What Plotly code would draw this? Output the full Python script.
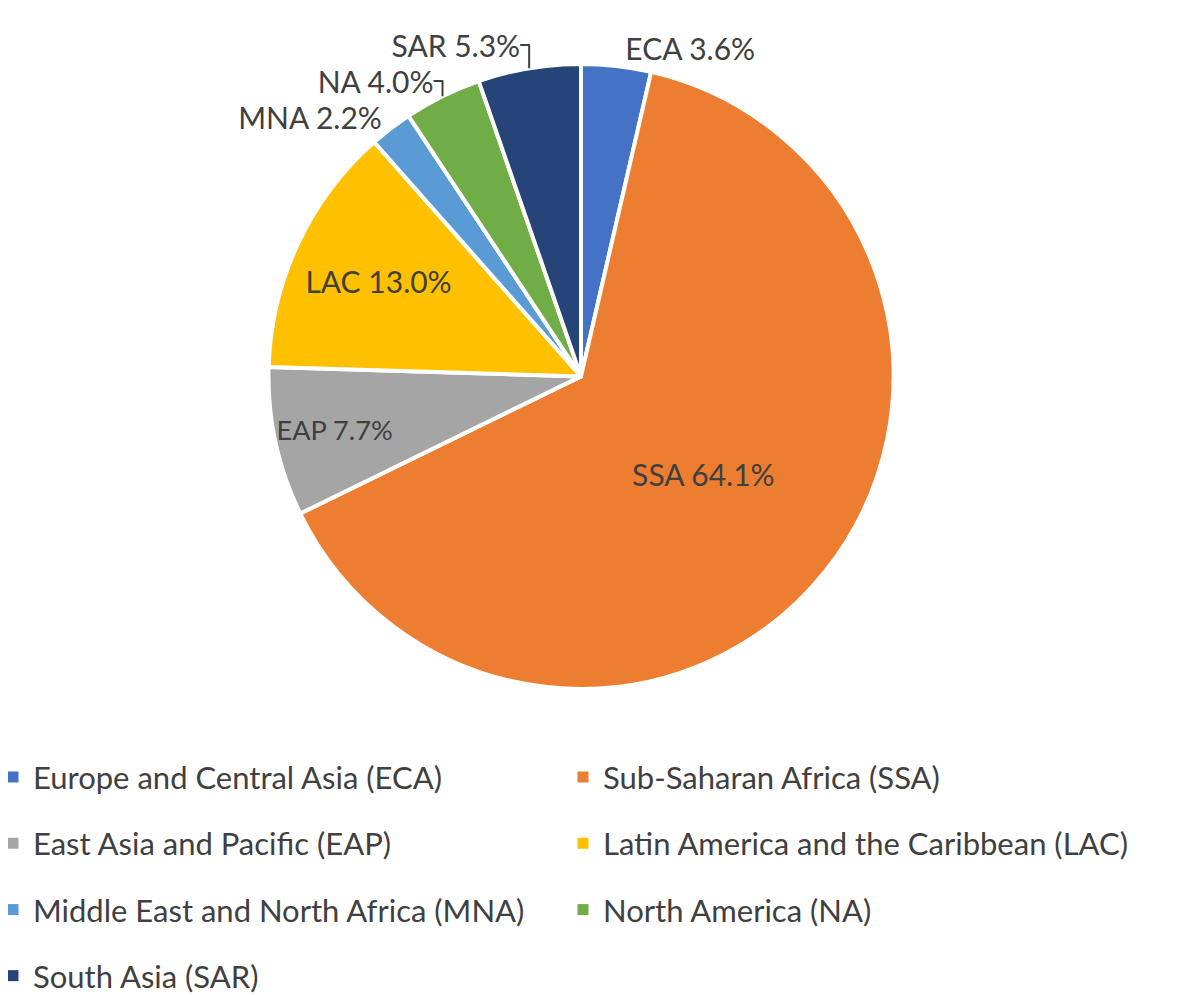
import plotly.graph_objects as go

regions = ["Europe and Central Asia (ECA)", "Sub-Saharan Africa (SSA)",
           "East Asia and Pacific (EAP)", "Latin America and the Caribbean (LAC)",
           "Middle East and North Africa (MNA)", "North America (NA)",
           "South Asia (SAR)"]
codes = ["ECA", "SSA", "EAP", "LAC", "MNA", "NA", "SAR"]
shares = [3.6, 64.1, 7.7, 13.0, 2.2, 4.0, 5.3]
colors = ["#4472C4", "#ED7D31", "#A5A5A5", "#FFC000", "#5B9BD5", "#70AD47", "#264478"]
positions = ["outside", "inside", "inside", "inside", "outside", "outside", "outside"]
legend_rows = ["legend", "legend", "legend2", "legend2", "legend3", "legend3", "legend4"]

FONT = "Lato"
TXT = "#404040"
FS = 30
W, H = 1178, 995

fig = go.Figure()
fig.add_trace(go.Pie(
    labels=regions,
    values=shares,
    text=codes,
    texttemplate="%{text} %{value:.1f}%",
    textinfo="text",
    textposition=positions,
    insidetextorientation="horizontal",
    sort=False,
    direction="clockwise",
    rotation=0,
    marker=dict(colors=colors, line=dict(color="white", width=4)),
    textfont=dict(family=FONT, size=FS, color=TXT),
    outsidetextfont=dict(family=FONT, size=FS, color=TXT),
    insidetextfont=dict(family=FONT, size=FS, color=TXT),
    domain=dict(x=[257/W, 889/W], y=[1-688.5/H, 1-56.5/H]),
    showlegend=False,
    hoverinfo="label+value",
))

# legend entries (two per row, like the reference)
for name, col, lg in zip(regions, colors, legend_rows):
    fig.add_trace(go.Scatter(
        x=[None], y=[None], mode="markers", name=name,
        marker=dict(symbol="square", size=11, color=col),
        legend=lg, showlegend=True, hoverinfo="skip",
    ))

row_y = [778, 845, 912, 979]
legend_common = dict(
    orientation="h", x=0, xanchor="left", yanchor="middle",
    indentation=-15,
    entrywidth=540, entrywidthmode="pixels",
    font=dict(family=FONT, size=31, color=TXT),
    bgcolor="rgba(0,0,0,0)", itemclick=False, itemdoubleclick=False,
)
fig.update_layout(
    width=W, height=H,
    margin=dict(l=0, r=0, t=0, b=0),
    paper_bgcolor="white",
    plot_bgcolor="white",
    font=dict(family=FONT, color=TXT),
    xaxis=dict(visible=False),
    yaxis=dict(visible=False),
    legend=dict(y=1-row_y[0]/H, **legend_common),
    legend2=dict(y=1-row_y[1]/H, **legend_common),
    legend3=dict(y=1-row_y[2]/H, **legend_common),
    legend4=dict(y=1-row_y[3]/H, **legend_common),
)

fig.write_html("out.html")
